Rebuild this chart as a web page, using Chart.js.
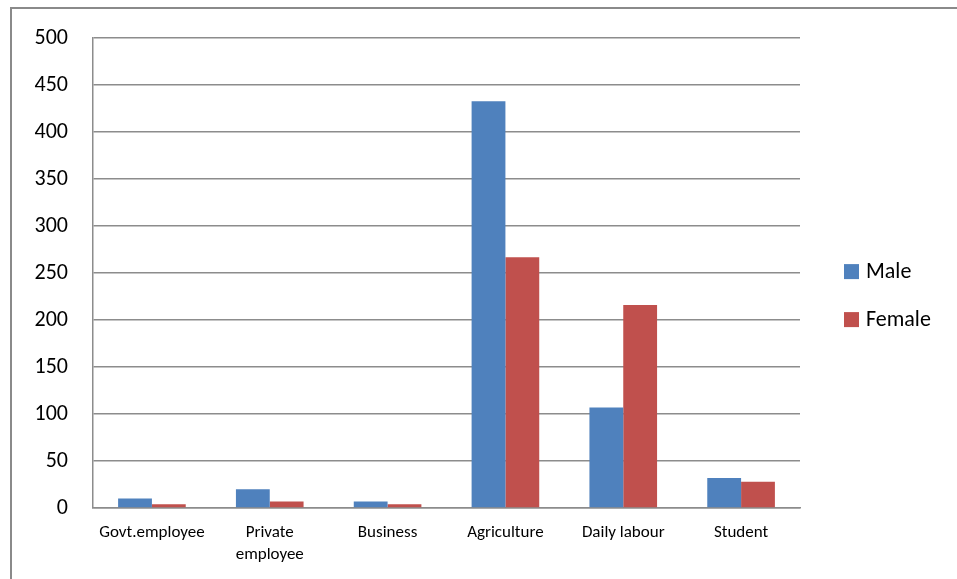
<!DOCTYPE html>
<html>
<head>
<meta charset="utf-8">
<script src="https://cdn.jsdelivr.net/npm/chart.js@4"></script>
<style>
  html, body { margin: 0; padding: 0; background: #fff; }
  #wrap { position: relative; width: 957px; height: 579px; overflow: hidden; }
  #frame { position: absolute; left: 10px; top: 7px; width: 960px; height: 600px;
           border-left: 2px solid #8a8a8a; border-top: 2px solid #8a8a8a; box-sizing: border-box; }
  canvas { position: absolute; left: 0; top: 0; }
</style>
</head>
<body>
<div id="wrap">
  <div id="frame"></div>
  <canvas id="c" width="957" height="579"></canvas>
</div>
<script>
// Occupation by gender
const categories = ['Govt.employee', ['Private', 'employee'], 'Business', 'Agriculture', 'Daily labour', 'Student'];
const maleValues = [10, 20, 7, 433, 107, 32];
const femaleValues = [4, 7, 4, 267, 216, 28];
const seriesNames = ['Male', 'Female'];
const seriesColors = ['#4F81BD', '#C0504D'];
const yTicks = [0, 50, 100, 150, 200, 250, 300, 350, 400, 450, 500];

const FONT = "Carlito, Calibri, Lato, 'Open Sans', sans-serif";
const GRID = '#8c8c8c';

// Legend drawn to the right of the plot area, one square swatch per series
const sideLegend = {
  id: 'sideLegend',
  afterDraw(chart) {
    const { ctx, chartArea } = chart;
    const mid = (chartArea.top + chartArea.bottom) / 2;
    const x = chartArea.right + 44;
    ctx.save();
    ctx.font = '22px ' + FONT;
    ctx.textBaseline = 'middle';
    chart.data.datasets.forEach((ds, i) => {
      const cy = mid - 2 + i * 48;
      ctx.fillStyle = ds.backgroundColor;
      ctx.fillRect(x, cy - 7, 15, 15);
      ctx.fillStyle = '#000';
      ctx.fillText(ds.label, x + 22, cy + 1);
    });
    ctx.restore();
  }
};

new Chart(document.getElementById('c'), {
  type: 'bar',
  data: {
    labels: categories,
    datasets: [
      { label: seriesNames[0], data: maleValues, backgroundColor: seriesColors[0] },
      { label: seriesNames[1], data: femaleValues, backgroundColor: seriesColors[1] }
    ]
  },
  options: {
    responsive: false,
    devicePixelRatio: 1,
    animation: false,
    layout: { padding: { top: 37, right: 157, left: 0, bottom: 0 } },
    datasets: { bar: { categoryPercentage: 0.574, barPercentage: 1 } },
    plugins: { legend: { display: false }, tooltip: { enabled: false } },
    scales: {
      x: {
        grid: { display: false, drawTicks: false },
        border: { display: true, color: GRID, width: 1.5 },
        ticks: { color: '#000', font: { family: FONT, size: 17, lineHeight: 1.3 }, padding: 14, maxRotation: 0, autoSkip: false },
        afterFit(scale) { scale.height = 71; }
      },
      y: {
        min: 0, max: 500,
        afterBuildTicks(scale) { scale.ticks = yTicks.map(v => ({ value: v })); },
        grid: { color: GRID, lineWidth: 1.5, drawTicks: false },
        border: { display: true, color: GRID, width: 1.5 },
        ticks: { color: '#000', font: { family: FONT, size: 22 }, padding: 25 },
        afterFit(scale) { scale.width = 93; }
      }
    }
  },
  plugins: [sideLegend]
});
</script>
</body>
</html>
